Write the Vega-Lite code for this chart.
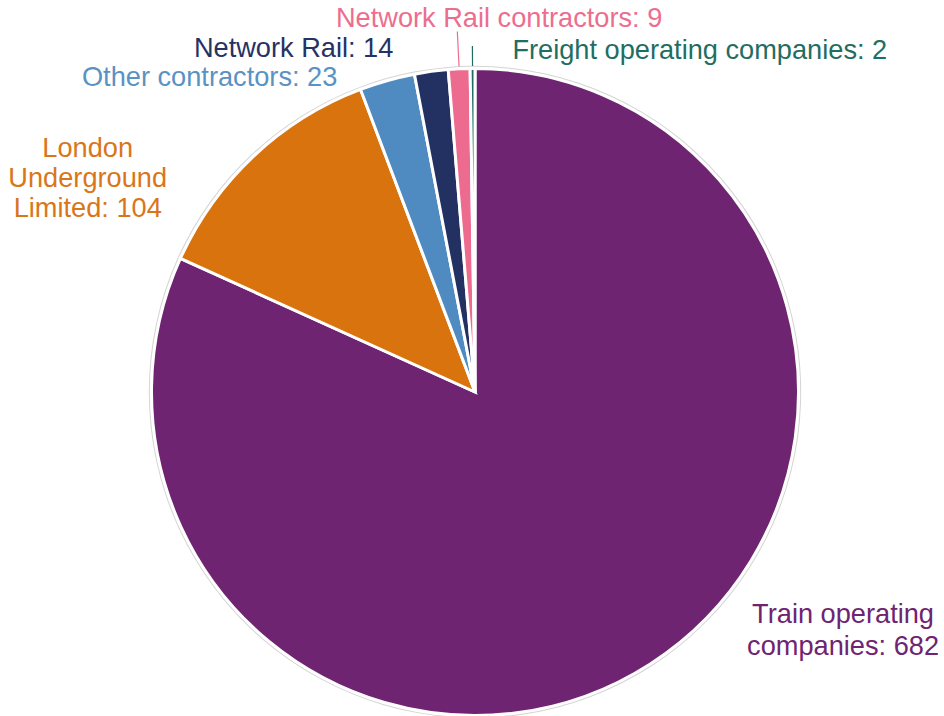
{
  "$schema": "https://vega.github.io/schema/vega-lite/v6.json",
  "width": 938,
  "height": 648,
  "autosize": {"type": "none"},
  "padding": {"left": 6, "top": 68, "right": 0, "bottom": 0},
  "background": "white",
  "config": {"view": {"stroke": null}, "text": {"font": "Liberation Sans"}},
  "data": {
    "values": [
      {"rank": 1, "category": "Train operating companies", "value": 682, "label": "Train operating\ncompanies: 682"},
      {"rank": 2, "category": "London Underground Limited", "value": 104, "label": "London\nUnderground\nLimited: 104"},
      {"rank": 3, "category": "Other contractors", "value": 23, "label": "Other contractors: 23"},
      {"rank": 4, "category": "Network Rail", "value": 14, "label": "Network Rail: 14"},
      {"rank": 5, "category": "Network Rail contractors", "value": 9, "label": "Network Rail contractors: 9"},
      {"rank": 6, "category": "Freight operating companies", "value": 2, "label": "Freight operating companies: 2"}
    ]
  },
  "encoding": {
    "theta": {"field": "value", "type": "quantitative", "stack": true},
    "order": {"field": "rank", "type": "quantitative"},
    "color": {
      "field": "category",
      "type": "nominal",
      "legend": null,
      "scale": {
        "domain": ["Train operating companies", "London Underground Limited", "Other contractors", "Network Rail", "Network Rail contractors", "Freight operating companies"],
        "range": ["#6F2471", "#D9730E", "#4F8BC0", "#233062", "#EC6B8F", "#1F6F63"]
      }
    }
  },
  "layer": [
    {
      "mark": {"type": "arc", "outerRadius": 323.5, "stroke": "white", "strokeWidth": 3}
    },
    {
      "mark": {"type": "arc", "innerRadius": 325.2, "outerRadius": 326.2},
      "encoding": {"color": {"value": "#d4d4d4"}}
    },
    {
      "mark": {"type": "arc", "innerRadius": 326, "outerRadius": 361, "padAngle": 0.6, "fillOpacity": 0, "strokeWidth": 1.2},
      "encoding": {
        "stroke": {"condition": {"test": "datum.rank === 5", "value": "#EC6E8F"}, "value": "transparent"}
      }
    },
    {
      "mark": {"type": "arc", "innerRadius": 326, "outerRadius": 346, "padAngle": 0.6, "fillOpacity": 0, "strokeWidth": 1.2},
      "encoding": {
        "stroke": {"condition": {"test": "datum.rank === 6", "value": "#1F6E63"}, "value": "transparent"}
      }
    },
    {
      "mark": {"type": "text", "radius": 360, "dx": 173, "dy": -72, "align": "center", "baseline": "alphabetic", "fontSize": 27.2, "lineHeight": 32, "lineBreak": "\n"},
      "encoding": {
        "text": {"condition": {"test": "datum.rank === 1", "field": "label", "type": "nominal"}, "value": ""},
        "color": {"value": "#6F2471"}
      }
    },
    {
      "mark": {"type": "text", "radius": 360, "dx": -141, "dy": 28, "align": "center", "baseline": "alphabetic", "fontSize": 27.2, "lineHeight": 30, "lineBreak": "\n"},
      "encoding": {
        "text": {"condition": {"test": "datum.rank === 2", "field": "label", "type": "nominal"}, "value": ""},
        "color": {"value": "#D9761A"}
      }
    },
    {
      "mark": {"type": "text", "radius": 345, "dx": -44, "dy": 26, "align": "right", "baseline": "alphabetic", "fontSize": 27.2},
      "encoding": {
        "text": {"condition": {"test": "datum.rank === 3", "field": "label", "type": "nominal"}, "value": ""},
        "color": {"value": "#5A92C5"}
      }
    },
    {
      "mark": {"type": "text", "radius": 345, "dx": -35, "dy": 7, "align": "right", "baseline": "alphabetic", "fontSize": 27.2},
      "encoding": {
        "text": {"condition": {"test": "datum.rank === 4", "field": "label", "type": "nominal"}, "value": ""},
        "color": {"value": "#253264"}
      }
    },
    {
      "mark": {"type": "text", "radius": 345, "dx": 41, "dy": -20, "align": "center", "baseline": "alphabetic", "fontSize": 27.2},
      "encoding": {
        "text": {"condition": {"test": "datum.rank === 5", "field": "label", "type": "nominal"}, "value": ""},
        "color": {"value": "#EC6E8F"}
      }
    },
    {
      "mark": {"type": "text", "radius": 345, "dx": 40, "dy": 12, "align": "left", "baseline": "alphabetic", "fontSize": 27.2},
      "encoding": {
        "text": {"condition": {"test": "datum.rank === 6", "field": "label", "type": "nominal"}, "value": ""},
        "color": {"value": "#1F6E63"}
      }
    }
  ]
}
